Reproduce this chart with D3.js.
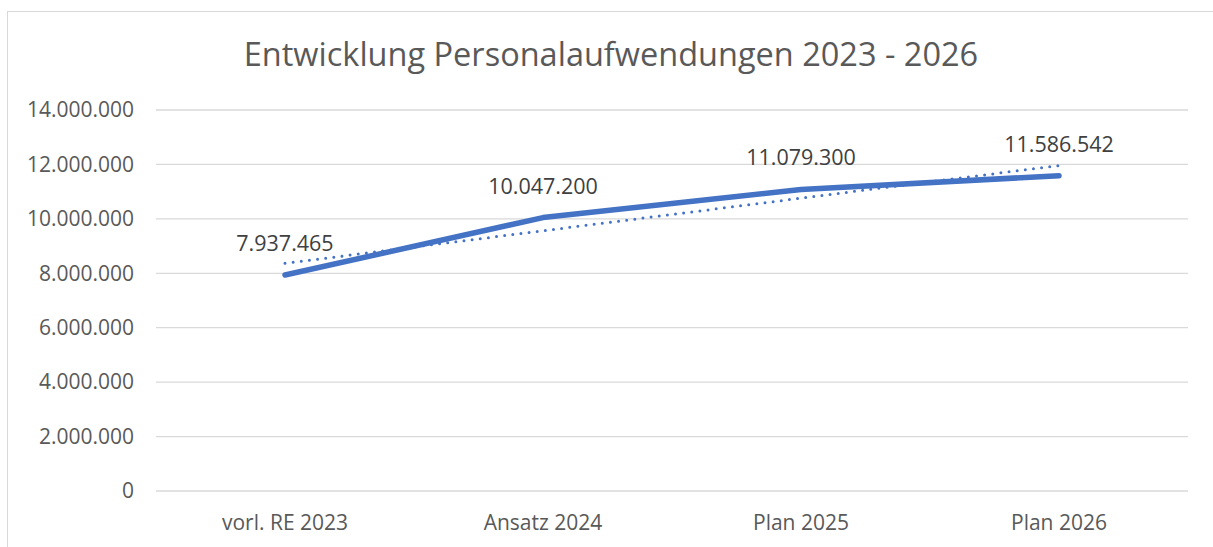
<!DOCTYPE html>
<html lang="de">
<head>
<meta charset="UTF-8">
<title>Entwicklung Personalaufwendungen</title>
<style>
  body { margin: 0; background: #fff; }
  svg text { font-family: "Open Sans", sans-serif; }
</style>
</head>
<body>
<svg width="1213" height="547"></svg>
<script src="https://cdn.jsdelivr.net/npm/d3@7"></script>
<script>
  var categories = ["vorl. RE 2023", "Ansatz 2024", "Plan 2025", "Plan 2026"];
  var values = [7937465, 10047200, 11079300, 11586542];
  var yTicks = [0, 2000000, 4000000, 6000000, 8000000, 10000000, 12000000, 14000000];
  var title = "Entwicklung Personalaufwendungen 2023 - 2026";

  var margin = {top: 110, left: 156, right: 25, bottom: 56};
  var svg = d3.select("svg");
  var width = +svg.attr("width") - margin.left - margin.right;
  var height = +svg.attr("height") - margin.top - margin.bottom;

  // outer chart frame
  svg.append("rect")
    .attr("x", 7.5).attr("y", 11.5)
    .attr("width", 1220).attr("height", 560)
    .attr("fill", "none").attr("stroke", "#d9d9d9");

  svg.append("text")
    .attr("x", 611).attr("y", 66)
    .attr("text-anchor", "middle")
    .attr("font-size", 32.5)
    .attr("fill", "#595959")
    .text(title);

  var g = svg.append("g").attr("transform", "translate(" + margin.left + "," + margin.top + ")");

  var x = d3.scaleBand().domain(categories).range([0, width]);
  var y = d3.scaleLinear().domain([0, 14000000]).range([height, 0]);

  var fmt = function(v) { return d3.format(",")(v).replace(/,/g, "."); };

  // gridlines
  g.selectAll(".grid").data(yTicks).enter().append("line")
    .attr("x1", 0).attr("x2", width)
    .attr("y1", function(d) { return y(d); })
    .attr("y2", function(d) { return y(d); })
    .attr("stroke", "#d9d9d9").attr("stroke-width", 1.3);

  var yAxis = g.append("g")
    .call(d3.axisLeft(y).tickValues(yTicks).tickSize(0).tickPadding(22).tickFormat(fmt));
  yAxis.select(".domain").remove();
  yAxis.selectAll("text").attr("font-size", 21).attr("fill", "#595959")
    .style("font-family", "'Open Sans', sans-serif");

  var xAxis = g.append("g")
    .attr("transform", "translate(0," + height + ")")
    .call(d3.axisBottom(x).tickSize(0).tickPadding(24));
  xAxis.select(".domain").remove();
  xAxis.selectAll("text").attr("font-size", 21).attr("fill", "#595959")
    .style("font-family", "'Open Sans', sans-serif");

  var cx = function(i) { return x(categories[i]) + x.bandwidth() / 2; };

  // linear trendline (least squares over category index)
  var n = values.length;
  var mx = (n + 1) / 2, my = d3.mean(values);
  var slope = d3.sum(values, function(v, i) { return (i + 1 - mx) * (v - my); }) /
              d3.sum(values, function(v, i) { return (i + 1 - mx) * (i + 1 - mx); });
  var trend = [0, n - 1].map(function(i) { return [cx(i), y(my + slope * (i + 1 - mx))]; });

  g.append("path")
    .attr("d", d3.line()(trend))
    .attr("fill", "none").attr("stroke", "#4472c4")
    .attr("stroke-width", 3).attr("stroke-linecap", "round")
    .attr("stroke-dasharray", "0,8.2");

  var line = d3.line()
    .x(function(d, i) { return cx(i); })
    .y(function(d) { return y(d); });

  g.append("path")
    .datum(values)
    .attr("d", line)
    .attr("fill", "none").attr("stroke", "#4472c4")
    .attr("stroke-width", 5.5).attr("stroke-linecap", "round").attr("stroke-linejoin", "round");

  g.selectAll(".lbl").data(values).enter().append("text")
    .attr("x", function(d, i) { return cx(i); })
    .attr("y", function(d) { return y(d) - 24; })
    .attr("text-anchor", "middle")
    .attr("font-size", 21.5).attr("fill", "#404040")
    .text(fmt);
</script>
</body>
</html>
